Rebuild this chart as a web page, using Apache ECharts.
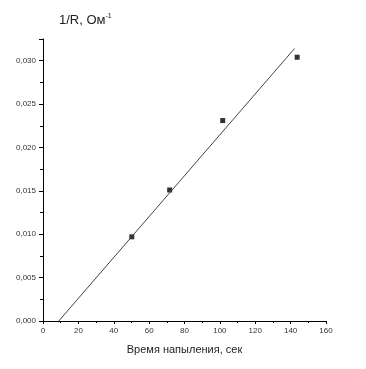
<!DOCTYPE html>
<html>
<head>
<meta charset="utf-8">
<script src="https://cdn.jsdelivr.net/npm/echarts@6/dist/echarts.min.js"></script>
<style>
html,body{margin:0;padding:0;background:#fff;}
#chart{width:366px;height:369px;}
</style>
</head>
<body>
<div id="chart"></div>
<script>
// измеренные точки
var timeSec = [50.2, 71.6, 101.6, 143.7];
var conductance = [0.0097, 0.0151, 0.0231, 0.0304];
// линия аппроксимации (концы)
var fitTime = [8.9, 142.2];
var fitCond = [0, 0.0314];

var chart = echarts.init(document.getElementById('chart'));

var pts = timeSec.map(function (t, i) { return [t, conductance[i]]; });
var fit = fitTime.map(function (t, i) { return [t, fitCond[i]]; });

chart.setOption({
  animation: false,
  title: {
    text: '{b|1/R, Ом}{s|-1}',
    left: 54,
    top: 8,
    textStyle: {
      rich: {
        b: { fontFamily: 'Liberation Sans', fontSize: 13, fontWeight: 'normal', color: '#222' },
        s: { fontFamily: 'Liberation Sans', fontSize: 7, fontWeight: 'normal', color: '#222', verticalAlign: 'top', padding: [0, 0, 8, 0] }
      }
    }
  },
  grid: { left: 43, top: 39, right: 40, bottom: 48 },
  xAxis: {
    type: 'value',
    min: 0, max: 160, interval: 20,
    name: 'Время напыления, сек',
    nameLocation: 'middle',
    nameGap: 23,
    nameTextStyle: { fontFamily: 'Liberation Sans', fontSize: 11, color: '#222' },
    axisLine: { lineStyle: { color: '#000', width: 1 } },
    axisTick: { length: 3, lineStyle: { color: '#000' } },
    minorTick: { show: true, splitNumber: 2, length: 2, lineStyle: { color: '#000' } },
    axisLabel: { fontFamily: 'Liberation Sans', fontSize: 8, color: '#333', margin: 6 },
    splitLine: { show: false }
  },
  yAxis: {
    type: 'value',
    min: 0, max: 0.0325, interval: 0.005,
    axisLine: { show: true, lineStyle: { color: '#000', width: 1 } },
    axisTick: { show: true, length: 4, lineStyle: { color: '#000' } },
    minorTick: { show: true, splitNumber: 2, length: 3, lineStyle: { color: '#000' } },
    axisLabel: {
      fontFamily: 'Liberation Sans', fontSize: 8, color: '#333', margin: 7,
      formatter: function (v) {
        if (Math.abs(v / 0.005 - Math.round(v / 0.005)) > 1e-6) return '';
        return v.toFixed(3).replace('.', ',');
      }
    },
    splitLine: { show: false }
  },
  series: [
    {
      type: 'line',
      data: fit,
      symbol: 'none',
      lineStyle: { color: '#444', width: 1 }
    },
    {
      type: 'scatter',
      data: pts,
      symbol: 'rect',
      symbolSize: 5,
      itemStyle: { color: '#000' }
    }
  ]
});
</script>
</body>
</html>
